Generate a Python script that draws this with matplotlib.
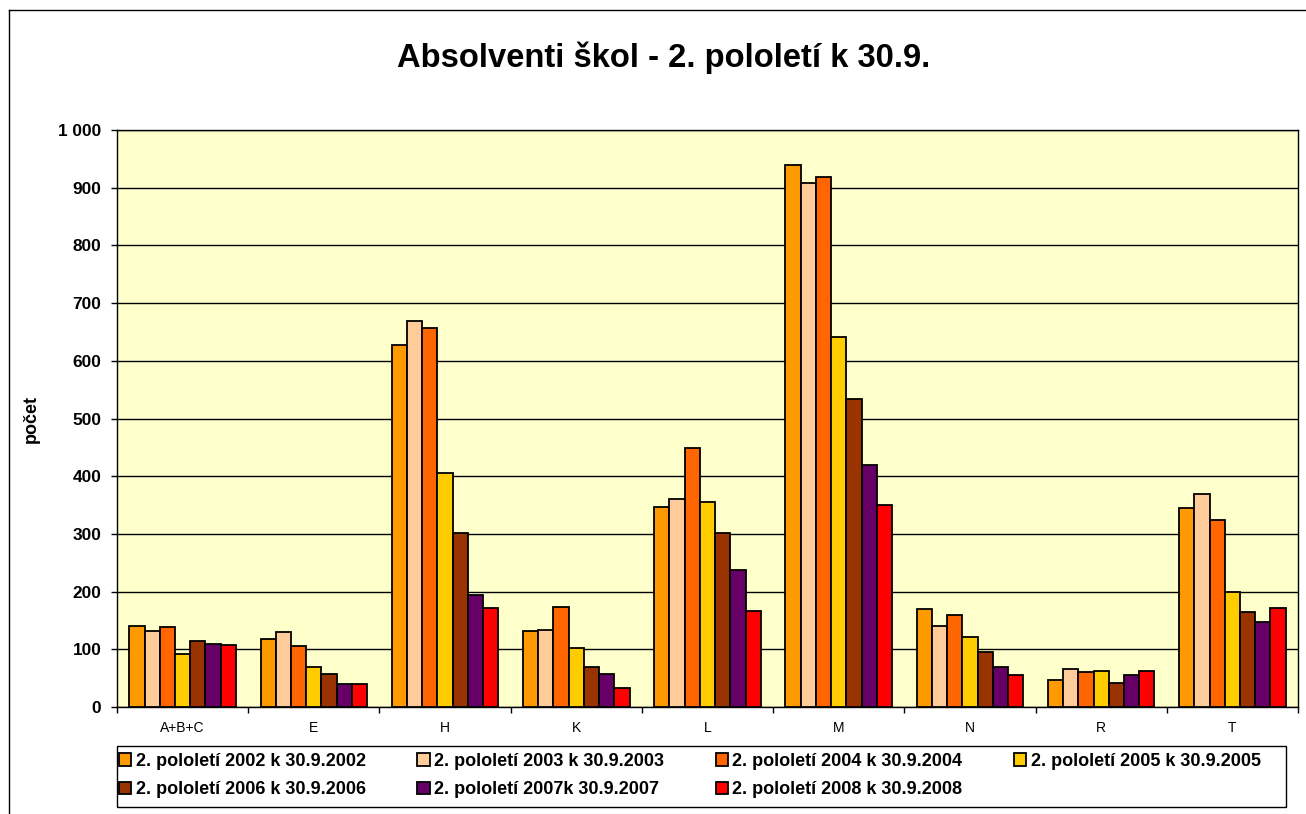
import numpy as np
import matplotlib
matplotlib.use("Agg")
import matplotlib.pyplot as plt
from matplotlib.lines import Line2D
from matplotlib.patches import Rectangle
from matplotlib.ticker import FuncFormatter

plt.rcParams['font.family'] = ['Liberation Sans', 'DejaVu Sans']

categories = ["A+B+C", "E", "H", "K", "L", "M", "N", "R", "T"]
series_labels = [
    "2. pololetí 2002 k 30.9.2002",
    "2. pololetí 2003 k 30.9.2003",
    "2. pololetí 2004 k 30.9.2004",
    "2. pololetí 2005 k 30.9.2005",
    "2. pololetí 2006 k 30.9.2006",
    "2. pololetí 2007k 30.9.2007",
    "2. pololetí 2008 k 30.9.2008",
]
colors = ["#FF9900", "#FFCC99", "#FF6600", "#FFCC00", "#993300", "#660066", "#FF0000"]

v2002 = [140, 117, 628, 132, 347, 940, 169, 47, 345]
v2003 = [132, 130, 669, 134, 361, 908, 140, 65, 370]
v2004 = [138, 105, 657, 173, 449, 919, 160, 61, 324]
v2005 = [91, 70, 406, 102, 355, 642, 121, 62, 200]
v2006 = [114, 58, 302, 69, 301, 533, 95, 42, 164]
v2007 = [110, 40, 194, 57, 238, 419, 69, 56, 147]
v2008 = [107, 40, 172, 33, 167, 350, 55, 62, 171]
values = [v2002, v2003, v2004, v2005, v2006, v2007, v2008]

W, H = 1306, 814
fig = plt.figure(figsize=(W / 100, H / 100), dpi=100)
fig.patch.set_facecolor("white")

ax = fig.add_axes([117 / W, 1 - 707 / H, (1298 - 117) / W, (707 - 130) / H])
ax.set_facecolor("#FFFFCC")

x = np.arange(len(categories))
bw = 0.116
n = len(values)
bars = []
for i, vals in enumerate(values):
    b = ax.bar(x + (i - (n - 1) / 2) * bw, vals, width=bw, color=colors[i],
               edgecolor="black", linewidth=1.3, zorder=3, label=series_labels[i])
    bars.append(b)

ax.set_xlim(-0.5, len(categories) - 0.5)
ax.set_ylim(0, 1000)
ax.set_yticks(np.arange(0, 1001, 100))
ax.yaxis.set_major_formatter(FuncFormatter(lambda v, p: f"{int(v):,}".replace(",", " ")))
ax.grid(axis="y", color="black", linewidth=1, zorder=1)
ax.set_axisbelow(True)

ax.set_xticks(np.arange(-0.5, len(categories)), minor=False)
ax.set_xticklabels([])
ax.set_xticks(x, minor=True)
ax.set_xticklabels(categories, minor=True, fontsize=10)
ax.tick_params(axis="x", which="major", direction="out", length=4, width=1)
ax.tick_params(axis="x", which="minor", length=0, pad=10)
ax.tick_params(axis="y", direction="out", length=4.3, width=1, labelsize=12.4, pad=7)
for lbl in ax.get_yticklabels():
    lbl.set_fontweight("bold")
for sp in ax.spines.values():
    sp.set_color("black")
    sp.set_linewidth(1)

ax.set_ylabel("počet", fontsize=13, fontweight="bold")
ax.yaxis.set_label_coords((40 - 117) / (1298 - 117), 0.5)

fig.text(664 / W, 1 - 58 / H, "Absolventi škol - 2. pololetí k 30.9.",
         ha="center", va="center", fontsize=23.6, fontweight="bold")

# legend: entries without frame, frame drawn separately
order = [0, 4, 1, 5, 2, 6, 3]
leg = fig.legend([bars[i] for i in order], [series_labels[i] for i in order],
                 ncol=4, loc="upper left",
                 bbox_to_anchor=(119 / W, 1 - 753 / H),
                 frameon=False, prop={"weight": "bold", "size": 13},
                 handlelength=0.68, handleheight=0.68, handletextpad=0.25,
                 columnspacing=2.85, borderpad=0, labelspacing=0.63,
                 borderaxespad=0)
fig.add_artist(Rectangle((117 / W, 1 - 807 / H), (1286 - 117) / W, (807 - 746) / H,
                         transform=fig.transFigure, fill=False,
                         edgecolor="black", linewidth=1))

# outer chart border
fig.add_artist(Line2D([9 / W, 9 / W], [0, 1 - 10 / H], color="black", linewidth=1))
fig.add_artist(Line2D([9 / W, 1], [1 - 10 / H, 1 - 10 / H], color="black", linewidth=1))

fig.savefig("out.png", dpi=100)
